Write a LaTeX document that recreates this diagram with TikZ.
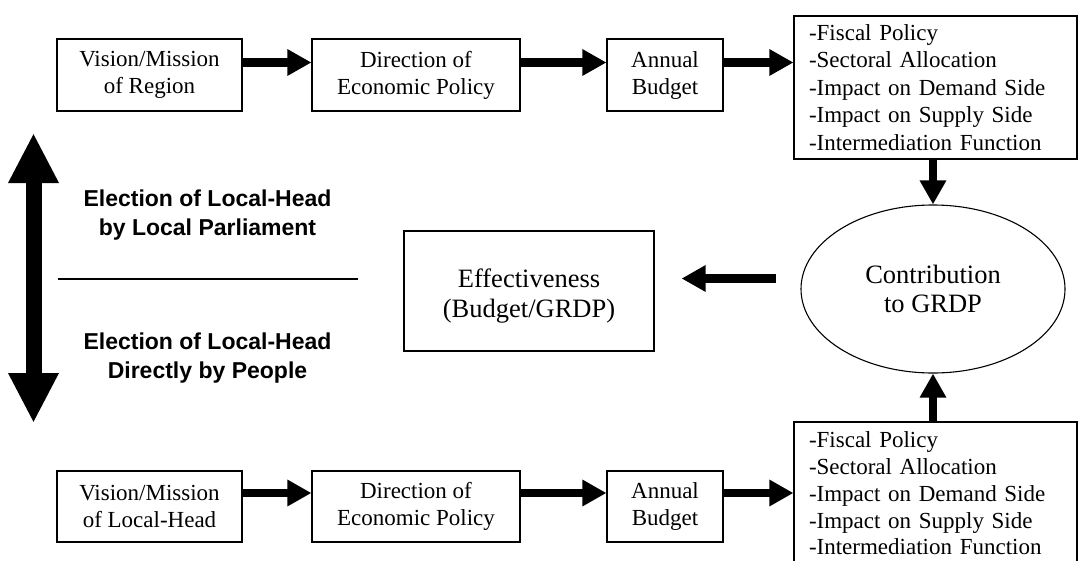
\documentclass[tikz,border=0pt]{standalone}
\usepackage{fontspec}
\setmainfont{Liberation Serif}
\newfontfamily\headfont{Liberation Sans}
\usetikzlibrary{arrows.meta,shapes.geometric}

\begin{document}
\begin{tikzpicture}[x=1pt,y=-1pt,
  box/.style={draw, line width=1.1pt, inner sep=0pt, align=center,
    font=\fontsize{23}{27}\selectfont},
  listbox/.style={draw, line width=1.1pt, inner xsep=15pt, inner ysep=0pt,
    text width=253pt, align=left, minimum width=283pt, minimum height=143pt,
    font=\fontsize{23}{27.5}\selectfont},
  bigtext/.style={align=center, inner sep=0pt, font=\fontsize{26.5}{29.5}\selectfont},
  flow/.style={line width=8.5pt, -{Triangle[length=24pt,width=25pt]}},
  election/.style={align=center, inner sep=0pt, font=\headfont\bfseries\fontsize{23}{29}\selectfont},
]
\clip (0,0) rectangle (1078,560);
\fill[white] (0,0) rectangle (1078,560);

% upper chain: vision of the region
\node[box, minimum width=185pt, minimum height=72pt] (A) at (149.5,75) {Vision/Mission\\of Region};
\node[box, minimum width=208pt, minimum height=72pt] (B) at (416,75) {Direction of\\Economic Policy};
\node[box, minimum width=116pt, minimum height=72pt] (C) at (665,75) {Annual\\Budget};
\node[listbox] (D) at (935.5,87.5) {-Fiscal Policy\\-Sectoral Allocation\\-Impact on Demand Side\\-Impact on Supply Side\\-Intermediation Function};

% lower chain: vision of the local head
\node[box, minimum width=185pt, minimum height=71pt] (A2) at (149.5,506.5) {Vision/Mission\\of Local-Head};
\node[box, minimum width=208pt, minimum height=71pt] (B2) at (416,506.5) {Direction of\\Economic Policy};
\node[box, minimum width=116pt, minimum height=71pt] (C2) at (665,506.5) {Annual\\Budget};
\node[listbox, font=\fontsize{23}{26.8}\selectfont] (D2) at (935.5,493.5) {-Fiscal Policy\\-Sectoral Allocation\\-Impact on Demand Side\\-Impact on Supply Side\\-Intermediation Function};

% middle: contribution and effectiveness
\node[ellipse, draw, line width=1.1pt, minimum width=264pt, minimum height=168pt, bigtext] (G) at (933,289) {Contribution\\to GRDP};
\node[box, minimum width=250pt, minimum height=120pt] (E) at (529,291) {};
\node[bigtext] (Et) at (529,296) {Effectiveness\\(Budget/GRDP)};

% election labels, separator and double arrow
\node[election] (L1) at (207.5,215.5) {Election of Local-Head\\by Local Parliament};
\node[election] (L2) at (207.5,358.5) {Election of Local-Head\\Directly by People};
\coordinate (s1) at (58,279);
\coordinate (s2) at (358,279);
\draw[line width=1.2pt] (s1) -- (s2);
\coordinate (up) at (33.5,133);
\coordinate (dn) at (33.5,423);
\draw[line width=16pt, {Triangle[length=50pt,width=47pt]}-{Triangle[length=50pt,width=47pt]}] (up) -- (dn);

% connectors
\draw[flow] ([yshift=12.5pt]A.east) -- ([yshift=12.5pt]B.west);
\draw[flow] ([yshift=12.5pt]B.east) -- ([yshift=12.5pt]C.west);
\draw[flow] ([yshift=12.5pt]C.east) -- ([yshift=12.5pt]C.east -| D.west);
\draw[flow] ([yshift=13.5pt]A2.east) -- ([yshift=13.5pt]B2.west);
\draw[flow] ([yshift=13.5pt]B2.east) -- ([yshift=13.5pt]C2.west);
\draw[flow] ([yshift=13.5pt]C2.east) -- ([yshift=13.5pt]C2.east -| D2.west);
\draw[flow] (D.south -| G.north) -- (G.north);
\draw[flow] (D2.north -| G.south) -- (G.south);
\draw[flow, shorten <=24pt, shorten >=27pt] (G.west |- 0,278.5) -- (E.east |- 0,278.5);
\end{tikzpicture}
\end{document}
